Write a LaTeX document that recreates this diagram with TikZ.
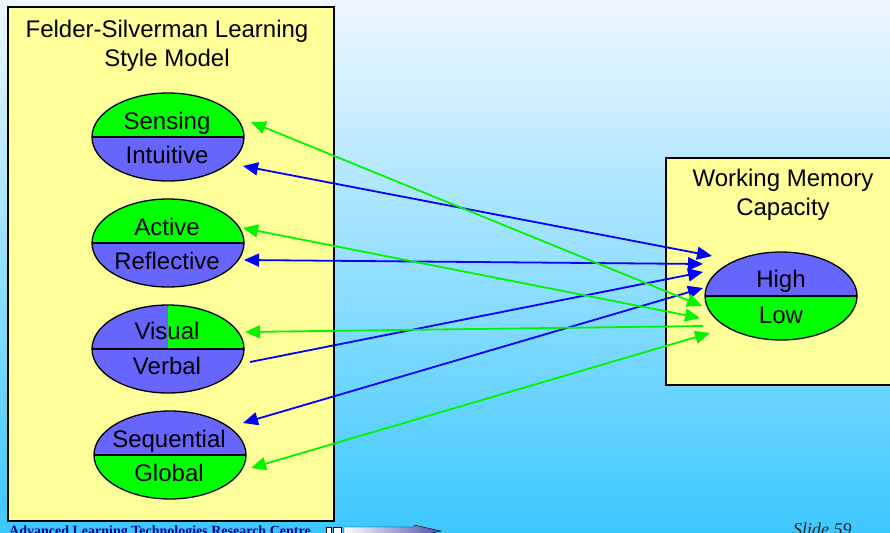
\documentclass[tikz,border=0pt]{standalone}
\usepackage{fontspec}
\setmainfont{Liberation Sans}
\newfontfamily\footfont{Liberation Serif}
\usetikzlibrary{arrows.meta,shapes.geometric}
\definecolor{bgtop}{RGB}{238,247,255}
\definecolor{bgbottom}{RGB}{60,200,255}
\definecolor{boxyellow}{RGB}{255,255,153}
\definecolor{fsblue}{RGB}{102,102,255}
\definecolor{fsgreen}{RGB}{0,255,0}
\definecolor{linkblue}{RGB}{0,0,255}
\definecolor{linkgreen}{RGB}{0,245,0}
\definecolor{footblue}{RGB}{0,0,153}

\begin{document}
\begin{tikzpicture}[x=1pt, y=-1pt,
  >={Triangle[length=15pt, width=13pt]},
  panel/.style={fill=boxyellow, draw=black, line width=2pt},
  lbl/.style={anchor=base, inner sep=0pt, font=\fontsize{24}{29}\selectfont},
  pole/.style 2 args={ellipse, draw=black, line width=1.3pt, inner sep=0pt,
    minimum width=152pt, minimum height=88pt,
    path picture={
      \fill[#1] (path picture bounding box.north west) rectangle (path picture bounding box.east);
      \fill[#2] (path picture bounding box.west) rectangle (path picture bounding box.south east);
      \draw[line width=1.3pt] (path picture bounding box.west) -- (path picture bounding box.east);}},
  quarterpole/.style={ellipse, draw=black, line width=1.3pt, inner sep=0pt,
    minimum width=152pt, minimum height=88pt,
    path picture={
      \fill[fsblue] (path picture bounding box.north west) rectangle (path picture bounding box.south east);
      \fill[fsgreen] (path picture bounding box.north) rectangle (path picture bounding box.east);
      \draw[line width=1.3pt] (path picture bounding box.west) -- (path picture bounding box.east);}},
  link/.style={line width=1.8pt}
]
\useasboundingbox (0,0) rectangle (890,532);
\clip (0,0) rectangle (890,532);
\shade[top color=bgtop, bottom color=bgbottom] (0,0) rectangle (890,532);

% Learning style panel (left)
\draw[panel] (7.5,7.5) rectangle (333.5,520.5);
\node[lbl, align=center] (fsmodel) at (167,67) {Felder-Silverman Learning\\Style Model};
\node[pole={fsgreen}{fsblue}] (sensing) at (168,137) {};
\node[lbl] at (167,129) {Sensing};
\node[lbl] at (167,163) {Intuitive};
\node[pole={fsgreen}{fsblue}] (active) at (168,243) {};
\node[lbl] at (167,235) {Active};
\node[lbl] at (167,269) {Reflective};
\node[quarterpole] (visual) at (168,349) {};
\node[lbl] at (167,339) {Visual};
\node[lbl] at (167,374) {Verbal};
\node[pole={fsblue}{fsgreen}] (sequential) at (170,455) {};
\node[lbl] at (169,447) {Sequential};
\node[lbl] at (169,481) {Global};

% Working memory panel (right)
\draw[panel] (666,158) rectangle (900,385);
\node[lbl, align=center] (wmc) at (783,215) {Working Memory\\Capacity};
\node[pole={fsblue}{fsgreen}] (memory) at (781,296) {};
\node[lbl] at (781,287) {High};
\node[lbl] at (781,323) {Low};

% arrow ends
\coordinate (sen) at (251,122);
\coordinate (int) at (243,166);
\coordinate (act) at (243,228);
\coordinate (ref) at (244,260);
\coordinate (vis) at (245,332);
\coordinate (ver) at (250,362);
\coordinate (seq) at (243,423);
\coordinate (glo) at (251,468);
\coordinate (hi1) at (712,256);
\coordinate (hi2) at (703,264);
\coordinate (hi3) at (703,272);
\coordinate (hi4) at (703,288);
\coordinate (lo1) at (702,306);
\coordinate (lo2) at (700,318);
\coordinate (lo3) at (703,326);
\coordinate (lo4) at (710,333);

% links to high capacity
\draw[link, linkblue, <->] (int) -- (hi1);
\draw[link, linkblue, <->] (ref) -- (hi2);
\draw[link, linkblue, ->] (ver) -- (hi3);
\draw[link, linkblue, <->] (seq) -- (hi4);
% links to low capacity
\draw[link, linkgreen, <->] (sen) -- (lo1);
\draw[link, linkgreen, <->] (act) -- (lo2);
\draw[link, linkgreen, <-] (vis) -- (lo3);
\draw[link, linkgreen, <->] (glo) -- (lo4);

% footer
\node[anchor=base west, inner sep=0pt, text=footblue, font=\footfont\bfseries\fontsize{14}{16}\selectfont] (centre) at (9,535) {Advanced Learning Technologies Research Centre};
\draw[fill=white, thin] (326,527) rectangle (331,537);
\draw[fill=white, thin] (333,527) rectangle (341,537);
\shade[left color=white, right color={rgb,255:red,80;green,80;blue,170}, draw=black, thin]
  (344,527) -- (414,527) -- (414,525) -- (441,531) -- (414,537) -- (344,537) -- cycle;
\node[anchor=base west, inner sep=0pt, text=black!85, font=\footfont\itshape\fontsize{18}{20}\selectfont] (slide) at (793,535) {Slide 59};
\end{tikzpicture}
\end{document}
